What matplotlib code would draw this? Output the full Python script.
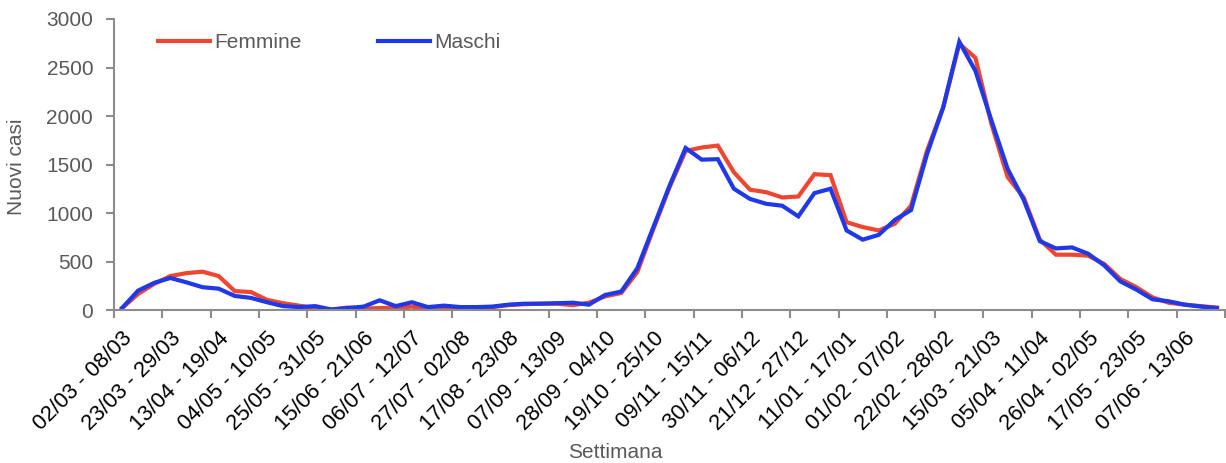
import numpy as np
import matplotlib
matplotlib.use("Agg")
import matplotlib.pyplot as plt
from matplotlib.ticker import MultipleLocator

plt.rcParams['font.family'] = ['Liberation Sans', 'DejaVu Sans']

# weekly new cases, 02/03/2020 - 27/06/2021
femmine = [20, 165, 270, 350, 380, 395, 350, 195, 185, 105,
           70, 45, 15, 5, 25, 15, 20, 25, 35, 15,
           30, 30, 30, 30, 50, 60, 65, 65, 50, 75,
           140, 175, 390, 835, 1265, 1640, 1675, 1695, 1420, 1240,
           1215, 1160, 1170, 1400, 1390, 905, 855, 820, 890, 1075,
           1645, 2090, 2745, 2600, 1915, 1370, 1160, 725, 570, 570,
           560, 475, 320, 235, 130, 75, 55, 40, 25]
maschi = [20, 200, 280, 330, 285, 235, 220, 145, 125, 80,
          40, 30, 40, 5, 20, 35, 100, 40, 80, 30,
          45, 30, 30, 35, 55, 65, 65, 70, 75, 55,
          155, 190, 430, 855, 1280, 1670, 1550, 1555, 1250, 1145,
          1095, 1075, 965, 1205, 1250, 820, 725, 775, 930, 1030,
          1610, 2090, 2765, 2465, 1950, 1455, 1135, 710, 635, 645,
          580, 460, 295, 210, 110, 90, 55, 35, 20]

# one label every 3 weeks
week_labels = ['02/03 - 08/03', '23/03 - 29/03', '13/04 - 19/04', '04/05 - 10/05',
               '25/05 - 31/05', '15/06 - 21/06', '06/07 - 12/07', '27/07 - 02/08',
               '17/08 - 23/08', '07/09 - 13/09', '28/09 - 04/10', '19/10 - 25/10',
               '09/11 - 15/11', '30/11 - 06/12', '21/12 - 27/12', '11/01 - 17/01',
               '01/02 - 07/02', '22/02 - 28/02', '15/03 - 21/03', '05/04 - 11/04',
               '26/04 - 02/05', '17/05 - 23/05', '07/06 - 13/06']

red = '#EE4630'
blue = '#1F38E8'
grey_txt = '#595959'
axis_col = '#8C8C8C'

fig = plt.figure(figsize=(12.26, 4.63), dpi=100)
ax = fig.add_axes([114 / 1226, 1 - 310 / 463, (1225 - 114) / 1226, (310 - 19) / 463])

x = np.arange(len(femmine))
ax.plot(x, femmine, color=red, lw=3, label='Femmine', solid_joinstyle='miter')
ax.plot(x, maschi, color=blue, lw=3, label='Maschi', solid_joinstyle='miter')

ax.set_xlim(-0.5, len(femmine) - 0.5)
ax.set_ylim(0, 3000)
ax.yaxis.set_major_locator(MultipleLocator(500))

# labels at week centres, tick marks on week boundaries every 3 weeks
ax.set_xticks(np.arange(0, len(femmine), 3))
ax.set_xticklabels(week_labels, rotation=45, ha='right', va='top',
                   rotation_mode='anchor', fontsize=15.8, color='black')
ax.tick_params(axis='x', which='major', length=0, pad=13)
ax.set_xticks(np.arange(-0.5, len(femmine), 3), minor=True)
ax.tick_params(axis='x', which='minor', length=6, width=1.5, color=axis_col)
ax.tick_params(axis='y', length=6, width=1.5, color=axis_col, labelsize=15,
               labelcolor=grey_txt, pad=9)

for s in ['top', 'right']:
    ax.spines[s].set_visible(False)
for s in ['left', 'bottom']:
    ax.spines[s].set_color(axis_col)
    ax.spines[s].set_linewidth(1.5)

fig.text(17 / 1226, 1 - 167 / 463, 'Nuovi casi', rotation=90, ha='center', va='center',
         fontsize=15, color=grey_txt)
fig.text(615 / 1226, 1 - 452 / 463, 'Settimana', ha='center', va='center',
         fontsize=15, color=grey_txt)

leg = ax.legend(loc='center left', bbox_to_anchor=(158 / 1226, 1 - 43 / 463),
                bbox_transform=fig.transFigure, ncol=2, frameon=False,
                fontsize=15, handlelength=2.5, handletextpad=0.2,
                columnspacing=3.65, borderpad=0, borderaxespad=0)
for t in leg.get_texts():
    t.set_color(grey_txt)

fig.savefig('out.png', dpi=100)
